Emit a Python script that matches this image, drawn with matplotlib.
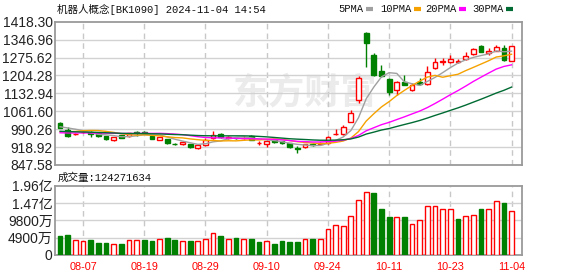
import matplotlib
matplotlib.use("Agg")
import matplotlib.pyplot as plt
from matplotlib.lines import Line2D
import numpy as np
import pandas as pd

# trading days shown (2024)
dates = ["08-02", "08-05", "08-06", "08-07", "08-08", "08-09", "08-12", "08-13", "08-14", "08-15",
         "08-16", "08-19", "08-20", "08-21", "08-22", "08-23", "08-26", "08-27", "08-28", "08-29",
         "08-30", "09-02", "09-03", "09-04", "09-05", "09-06", "09-09", "09-10", "09-11", "09-12",
         "09-13", "09-18", "09-19", "09-20", "09-23", "09-24", "09-25", "09-26", "09-27", "09-30",
         "10-08", "10-09", "10-10", "10-11", "10-14", "10-15", "10-16", "10-17", "10-18", "10-21",
         "10-22", "10-23", "10-24", "10-25", "10-28", "10-29", "10-30", "10-31", "11-01", "11-04"]

opens = [1015, 988, 970, 978, 978, 975, 962, 947, 966, 962,
         979, 979, 962, 948, 951, 932, 931, 931, 915, 928,
         955, 971, 955, 957, 955, 962, 934, 931, 948, 942,
         935, 916, 918, 932, 932, 935, 970, 971, 1020, 1106,
         1372, 1285, 1223, 1190, 1146, 1179, 1148, 1179, 1169, 1233,
         1257, 1258, 1258, 1268, 1288, 1321, 1292, 1303, 1312, 1263]
highs = [1020, 1000, 976, 984, 982, 979, 963, 961, 968, 976,
         983, 982, 964, 960, 953, 937, 941, 933, 928, 955,
         985, 975, 962, 960, 965, 966, 942, 947, 951, 944,
         937, 922, 933, 935, 940, 962, 991, 1005, 1066, 1202,
         1376, 1295, 1246, 1193, 1182, 1205, 1176, 1194, 1242, 1274,
         1274, 1285, 1270, 1299, 1314, 1325, 1313, 1325, 1325, 1322]
lows = [993, 959, 967, 975, 958, 959, 948, 945, 955, 960,
        962, 972, 950, 946, 933, 927, 929, 916, 912, 922,
        951, 957, 952, 951, 950, 947, 928, 918, 937, 933,
        916, 895, 916, 925, 928, 933, 969, 969, 1018, 1094,
        1237, 1204, 1198, 1126, 1128, 1166, 1143, 1167, 1167, 1231,
        1246, 1253, 1253, 1266, 1285, 1297, 1286, 1301, 1262, 1261]
closes = [995, 962, 973, 981, 970, 962, 952, 959, 957, 974,
          976, 975, 952, 958, 935, 931, 939, 918, 926, 948,
          968, 958, 960, 954, 957, 949, 935, 944, 939, 935,
          918, 913, 931, 928, 937, 960, 971, 1000, 1056, 1194,
          1335, 1206, 1203, 1139, 1179, 1167, 1168, 1170, 1219, 1259,
          1262, 1268, 1260, 1283, 1308, 1299, 1301, 1319, 1266, 1321]
# closes of the 29 sessions before 08-02 (estimated, only feed the moving averages)
pre_closes = [1002, 998, 1005, 996, 990, 985, 992, 998, 988, 986,
              980, 975, 970, 978, 968, 962, 966, 972, 974, 975,
              965, 958, 952, 960, 966, 985, 998, 1010, 1011]
# volume in millions of shares
volumes_m = [53.2, 56, 42, 39, 42, 34.5, 34.5, 30, 31, 42,
             42, 42, 39, 44.8, 48.5, 42, 39, 39, 39, 44.8,
             63.5, 53, 44.8, 48.5, 44.8, 44.8, 37, 39, 31, 39,
             35.5, 35.5, 46.7, 44.8, 44.8, 74.7, 84, 81, 112, 156,
             179, 176, 132, 107, 107, 107, 87, 100, 140, 140,
             132, 132, 102, 112, 115, 132, 132, 154, 149, 124.271634]

ma_periods = [5, 10, 20, 30]
ma_colors = ["#a0a0a0", "#f5a200", "#ff00ff", "#006b33"]

price_min, price_max = 847.58, 1418.30
vol_max = 196e6

RED = "#ff0000"
GREEN = "#008000"
CJK = ["Liberation Mono", "Noto Sans CJK SC"]
NUM = ["Liberation Sans", "Noto Sans CJK SC"]

o = np.array(opens, float)
h = np.array(highs, float)
l = np.array(lows, float)
c = np.array(closes, float)
v = np.array(volumes_m) * 1e6
x = np.arange(len(dates))

up = c >= o
cand_col = np.where(up, RED, GREEN)
cand_fill = np.where(up, "white", GREEN)
prev_close = np.concatenate([[pre_closes[-1]], c[:-1]])
vol_up = c >= prev_close
vol_col = np.where(vol_up, RED, GREEN)
vol_fill = np.where(vol_up, "white", GREEN)

fig = plt.figure(figsize=(5.78, 2.76), dpi=100)
ax = fig.add_axes([0.096, 0.4022, 0.8076, 0.519])
axv = fig.add_axes([0.096, 0.0761, 0.8076, 0.25])

label_idx = list(range(3, len(dates), 8))

for a in (ax, axv):
    a.set_xlim(-0.6, len(dates) + 0.4)
    for s in a.spines.values():
        s.set_color("#9a9a9a")
        s.set_linewidth(1.3)
    a.tick_params(length=0)
    for i in label_idx:
        a.axvline(i, color="#c8c8c8", lw=1, ls=(0, (4, 3)), zorder=1)

# watermark
ax.text(0.535, 0.5, "东方财富", transform=ax.transAxes, fontsize=26, color="#ebebeb",
        fontweight="bold", family="Noto Sans CJK SC", ha="center", va="center", zorder=0)

# price panel
ticks = np.linspace(price_min, price_max, 9)
ax.set_ylim(price_min, price_max)
ax.set_yticks(ticks)
ax.set_yticklabels(["%.2f" % t for t in ticks], family=NUM, fontsize=10, color="#222222")
ax.tick_params(axis="y", pad=2)
for t in ticks[1:-1]:
    ax.axhline(t, color="#d2d2d2", lw=1, zorder=1)
ax.set_xticks([])

ax.vlines(x, l, h, colors=cand_col, lw=1, zorder=3)
ax.bar(x, np.maximum(np.abs(c - o), 0.8), bottom=np.minimum(o, c), width=0.62,
       color=cand_fill, edgecolor=cand_col, lw=1, zorder=4)

full = pd.Series(pre_closes + closes, dtype=float)
for n, col in zip(ma_periods, ma_colors):
    ma = full.rolling(n).mean().iloc[len(pre_closes):].to_numpy()
    ax.plot(x, ma, color=col, lw=1, zorder=5)

# volume panel
vticks = np.linspace(0, vol_max, 5)
axv.set_ylim(0, vol_max)
axv.set_yticks(vticks)
axv.set_yticklabels(["0", "4900万", "9800万", "1.47亿", "1.96亿"], family=NUM,
                    fontsize=10, color="#222222")
axv.tick_params(axis="y", pad=2)
for t in vticks[1:-1]:
    axv.axhline(t, color="#d2d2d2", lw=1, zorder=1)
axv.bar(x, v, width=0.62, color=vol_fill, edgecolor=vol_col, lw=1, zorder=3)
axv.set_xticks(label_idx)
axv.set_xticklabels([dates[i] for i in label_idx], family=NUM, fontsize=7.8, color=RED)
axv.tick_params(axis="x", pad=5)

# header texts
fig.text(0.099, 0.967, "机器人概念[BK1090] 2024-11-04 14:54", family=CJK, fontsize=7.6,
         color="#111111", va="center", ha="left")
fig.text(0.099, 0.355, "成交量:%d" % round(v[-1]), family=CJK, fontsize=7.6,
         color="#111111", va="center", ha="left")

legend_x = [338, 380, 425, 472]
for n, col, lx in zip(ma_periods, ma_colors, legend_x):
    txt = "%dPMA" % n
    fig.text(lx / 578, 0.967, txt, family=CJK, fontsize=7.6, color="#111111",
             va="center", ha="left")
    mx = lx + 6.25 * len(txt) + 3
    fig.add_artist(Line2D([mx / 578, (mx + 7) / 578], [0.967, 0.967], color=col, lw=3,
                          solid_capstyle="butt", transform=fig.transFigure))

fig.savefig("out.png", dpi=100)
